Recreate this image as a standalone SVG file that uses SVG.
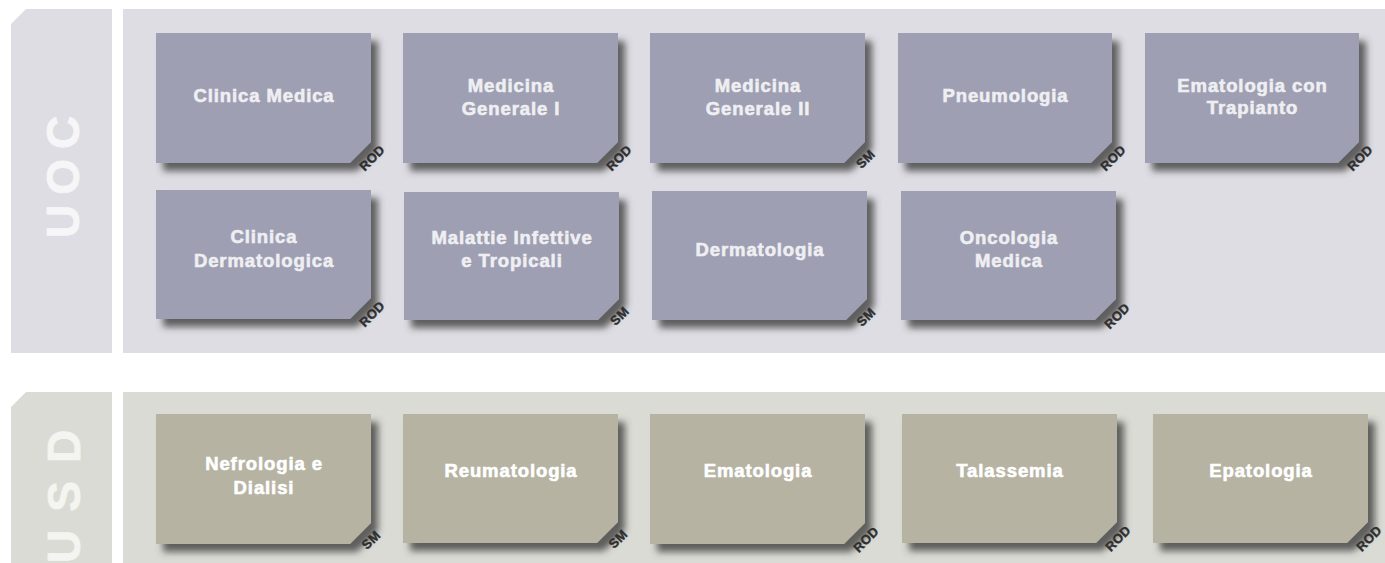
<svg xmlns="http://www.w3.org/2000/svg" width="1385" height="563" viewBox="0 0 1385 563">
  <defs>
    <filter id="drop" x="-10%" y="-15%" width="135%" height="145%">
      <feDropShadow dx="7" dy="8" stdDeviation="3.5" flood-color="#3c3c3c" flood-opacity="0.8"/>
    </filter>
    <style>
      .uoc-bg { fill: #dedde3; }
      .usd-bg { fill: #dbdbd5; }
      .side { font-family: "Liberation Sans", Arial, sans-serif; font-weight: bold; font-size: 46px; stroke-width: 0.8px; }
      .uoc-side { fill: #f6f6f8; stroke: #f6f6f8; letter-spacing: 10px; }
      .usd-side { fill: #f4f4f0; stroke: #f4f4f0; letter-spacing: 18px; }
      .box { filter: url(#drop); }
      .uoc .box { fill: #9e9fb2; }
      .usd .box { fill: #b6b3a3; }
      .lbl { font-family: "Liberation Sans", Arial, sans-serif; font-weight: bold; font-size: 18.5px; letter-spacing: 0.9px; stroke-width: 0.6px; text-anchor: middle; }
      .uoc .lbl { fill: #efeff2; stroke: #efeff2; }
      .usd .lbl { fill: #ffffff; stroke: #ffffff; }
      .tag { font-family: "Liberation Sans", Arial, sans-serif; font-weight: bold; font-size: 13px; letter-spacing: 0.3px; fill: #2e2e2e; stroke: #2e2e2e; stroke-width: 0.4px; text-anchor: middle; dominant-baseline: central; }
    </style>
  </defs>

  <!-- section backgrounds -->
  <g id="uoc-section">
    <path class="uoc-bg" d="M11,24 L26,9 H112 V353 H11 Z"/>
    <rect class="uoc-bg" x="123" y="9" width="1262" height="344"/>
    <text class="side uoc-side" transform="translate(79,238) rotate(-90)">UOC</text>
  </g>
  <g id="usd-section">
    <path class="usd-bg" d="M11,407 L26,392 H112 V563 H11 Z"/>
    <rect class="usd-bg" x="123" y="392" width="1262" height="171"/>
    <text class="side usd-side" transform="translate(80,563) rotate(-90)">USD</text>
  </g>

  <g id="connectors"/>

  <!-- UOC units -->
  <g class="uoc">
    <g id="clinica-medica">
      <path class="box" d="M156,33 H371 V142 L350,163 H156 Z"/>
      <text class="lbl" x="264" y="102">Clinica Medica</text>
      <text class="tag" transform="translate(372,158) rotate(-45)">ROD</text>
    </g>
    <g id="medicina-generale-1">
      <path class="box" d="M403,33 H618 V142 L597,163 H403 Z"/>
      <text class="lbl" x="511" y="92">Medicina</text>
      <text class="lbl" x="511" y="115">Generale I</text>
      <text class="tag" transform="translate(619,158) rotate(-45)">ROD</text>
    </g>
    <g id="medicina-generale-2">
      <path class="box" d="M650,33 H865 V142 L844,163 H650 Z"/>
      <text class="lbl" x="758" y="92">Medicina</text>
      <text class="lbl" x="758" y="115">Generale II</text>
      <text class="tag" transform="translate(865.5,159) rotate(-45)">SM</text>
    </g>
    <g id="pneumologia">
      <path class="box" d="M898,33 H1112 V142 L1091,163 H898 Z"/>
      <text class="lbl" x="1005.5" y="102">Pneumologia</text>
      <text class="tag" transform="translate(1113,158) rotate(-45)">ROD</text>
    </g>
    <g id="ematologia-trapianto">
      <path class="box" d="M1145,33 H1359 V142 L1338,163 H1145 Z"/>
      <text class="lbl" x="1252.5" y="91.5">Ematologia con</text>
      <text class="lbl" x="1252.5" y="114">Trapianto</text>
      <text class="tag" transform="translate(1360,158) rotate(-45)">ROD</text>
    </g>
    <g id="clinica-dermatologica">
      <path class="box" d="M156,190 H371 V298 L350,319 H156 Z"/>
      <text class="lbl" x="264" y="243">Clinica</text>
      <text class="lbl" x="264" y="267">Dermatologica</text>
      <text class="tag" transform="translate(372,314) rotate(-45)">ROD</text>
    </g>
    <g id="malattie-infettive">
      <path class="box" d="M404,192 H619 V299 L598,320 H404 Z"/>
      <text class="lbl" x="512" y="244">Malattie Infettive</text>
      <text class="lbl" x="512" y="266.5">e Tropicali</text>
      <text class="tag" transform="translate(619.5,316) rotate(-45)">SM</text>
    </g>
    <g id="dermatologia">
      <path class="box" d="M652,191 H867 V299 L846,320 H652 Z"/>
      <text class="lbl" x="760" y="255.5">Dermatologia</text>
      <text class="tag" transform="translate(866,317) rotate(-45)">SM</text>
    </g>
    <g id="oncologia-medica">
      <path class="box" d="M901,191 H1116 V299 L1095,320 H901 Z"/>
      <text class="lbl" x="1009" y="244">Oncologia</text>
      <text class="lbl" x="1009" y="267">Medica</text>
      <text class="tag" transform="translate(1117,316) rotate(-45)">ROD</text>
    </g>
  </g>

  <!-- USD units -->
  <g class="usd">
    <g id="nefrologia-dialisi">
      <path class="box" d="M156,414 H371 V523 L350,544 H156 Z"/>
      <text class="lbl" x="264" y="470">Nefrologia e</text>
      <text class="lbl" x="264" y="493.5">Dialisi</text>
      <text class="tag" transform="translate(371,540) rotate(-45)">SM</text>
    </g>
    <g id="reumatologia">
      <path class="box" d="M403,414 H618 V522 L597,543 H403 Z"/>
      <text class="lbl" x="511" y="477">Reumatologia</text>
      <text class="tag" transform="translate(618,539) rotate(-45)">SM</text>
    </g>
    <g id="ematologia">
      <path class="box" d="M650,414 H865 V523 L844,544 H650 Z"/>
      <text class="lbl" x="758" y="477">Ematologia</text>
      <text class="tag" transform="translate(866,539.5) rotate(-45)">ROD</text>
    </g>
    <g id="talassemia">
      <path class="box" d="M902,414 H1117 V522 L1096,543 H902 Z"/>
      <text class="lbl" x="1010" y="477">Talassemia</text>
      <text class="tag" transform="translate(1118,538.5) rotate(-45)">ROD</text>
    </g>
    <g id="epatologia">
      <path class="box" d="M1153,414 H1368 V522 L1347,543 H1153 Z"/>
      <text class="lbl" x="1261" y="476.5">Epatologia</text>
      <text class="tag" transform="translate(1369,538.5) rotate(-45)">ROD</text>
    </g>
  </g>
</svg>
